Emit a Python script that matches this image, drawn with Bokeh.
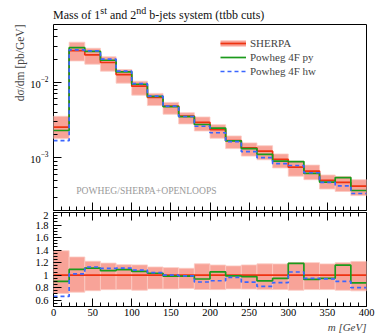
from bokeh.embed import file_html
from bokeh.layouts import column
from bokeh.models import (CustomLabelingPolicy, Div, FixedTicker, Label,
                          LinearAxis, Legend, LegendItem, Range1d, Title)
from bokeh.plotting import figure
from bokeh.resources import INLINE

# ---- data: m(b1,b2) in 20 GeV bins, d(sigma)/dm in pb/GeV ----
bin_edges = [0, 20, 40, 60, 80, 100, 120, 140, 160, 180, 200,
             220, 240, 260, 280, 300, 320, 340, 360, 380, 400]

sherpa = [2.54e-3, 2.62e-2, 2.30e-2, 1.82e-2, 1.26e-2, 8.85e-3, 6.28e-3,
          4.82e-3, 3.55e-3, 2.93e-3, 2.35e-3, 1.69e-3, 1.35e-3, 1.22e-3,
          9.5e-4, 7.5e-4, 6.65e-4, 5.0e-4, 4.7e-4, 4.2e-4]
sherpa_up = [3.53e-3, 3.38e-2, 2.81e-2, 2.17e-2, 1.47e-2, 1.03e-2, 7.10e-3,
             5.40e-3, 3.94e-3, 3.46e-3, 2.73e-3, 1.94e-3, 1.57e-3, 1.44e-3,
             1.12e-3, 9.0e-4, 7.98e-4, 5.9e-4, 5.64e-4, 5.12e-4]
sherpa_dn = [1.80e-3, 1.91e-2, 1.73e-2, 1.40e-2, 9.70e-3, 6.73e-3, 4.90e-3,
             3.76e-3, 2.80e-3, 2.26e-3, 1.81e-3, 1.32e-3, 1.05e-3, 9.39e-4,
             7.32e-4, 5.70e-4, 5.12e-4, 3.85e-4, 3.57e-4, 3.15e-4]
powheg_py = [2.29e-3, 2.86e-2, 2.56e-2, 1.95e-2, 1.37e-2, 9.38e-3, 6.47e-3,
             4.75e-3, 3.50e-3, 2.75e-3, 2.47e-3, 1.67e-3, 1.32e-3, 1.11e-3,
             9.0e-4, 8.9e-4, 6.2e-4, 4.75e-4, 5.45e-4, 3.68e-4]
powheg_hw = [1.68e-3, 2.67e-2, 2.60e-2, 2.02e-2, 1.40e-2, 9.56e-3, 6.53e-3,
             4.82e-3, 3.51e-3, 2.61e-3, 2.14e-3, 1.63e-3, 1.20e-3, 1.00e-3,
             8.36e-4, 7.88e-4, 6.32e-4, 4.70e-4, 4.23e-4, 3.36e-4]

x_ticks = [0, 50, 100, 150, 200, 250, 300, 350, 400]
ratio_ticks = [0.6, 0.8, 1.0, 1.2, 1.4, 1.6, 1.8, 2.0]

FONT = "Liberation Serif"
RED = "#ee3311"
BAND = "#f8a398"
BAND_EDGE = "#fbcac3"
GREEN = "#1c9a1c"
BLUE = "#3a66ff"

lefts = bin_edges[:-1]
rights = bin_edges[1:]

# tick marks only, no tick labels (shared panel edges)
no_labels = CustomLabelingPolicy(code="for (const i of indices) indices.unset(i)")


def step_y(vals):
    return list(vals) + [vals[-1]]


def style_axes(p):
    p.xgrid.visible = False
    p.ygrid.visible = False
    p.outline_line_color = "black"
    p.outline_line_width = 1
    p.background_fill_color = "white"
    p.border_fill_color = "white"
    for ax in p.axis:
        ax.axis_line_color = None
        ax.major_tick_in = 8
        ax.major_tick_out = 0
        ax.minor_tick_in = 4
        ax.minor_tick_out = 0
        ax.major_tick_line_color = "black"
        ax.minor_tick_line_color = "black"
        ax.major_label_text_font = FONT
        ax.major_label_text_font_size = "10.5px"
        ax.major_label_text_color = "black"


def hide_labels(ax):
    ax.major_label_policy = no_labels
    ax.major_label_text_font_size = "0px"
    ax.major_label_standoff = 0


minor_x = list(range(0, 401, 10))

# ---------------- main panel ----------------
p1 = figure(width=376, height=187, y_axis_type="log",
            x_range=Range1d(0, 400), y_range=Range1d(2.0e-4, 0.058),
            output_backend="svg", toolbar_location=None,
            min_border_left=53, min_border_right=10,
            min_border_top=0, min_border_bottom=1)

p1.quad(left=lefts, right=rights, bottom=sherpa_dn, top=sherpa_up,
        fill_color=BAND, fill_alpha=1.0, line_color=BAND_EDGE, line_width=0.8)
r_sh = p1.step(bin_edges, step_y(sherpa), mode="after",
               line_color=RED, line_width=1.7)
r_py = p1.step(bin_edges, step_y(powheg_py), mode="after",
               line_color=GREEN, line_width=1.7)
r_hw = p1.step(bin_edges, step_y(powheg_hw), mode="after",
               line_color=BLUE, line_width=1.7, line_dash="4 3")
# legend swatch for the uncertainty band (draws nothing in the frame)
leg_band = p1.line(x=[float("nan")], y=[float("nan")],
                   line_color=BAND, line_width=6)

style_axes(p1)
p1.xaxis.ticker = FixedTicker(ticks=x_ticks, minor_ticks=minor_x)
hide_labels(p1.xaxis[0])
p1.yaxis.ticker = FixedTicker(
    ticks=[1e-3, 1e-2],
    minor_ticks=[m * 10.0 ** e for e in (-4, -3, -2) for m in range(2, 10)])
p1.yaxis.major_label_standoff = 5

legend = Legend(items=[
    LegendItem(label="SHERPA", renderers=[leg_band, r_sh]),
    LegendItem(label="Powheg 4F py", renderers=[r_py]),
    LegendItem(label="Powheg 4F hw", renderers=[r_hw]),
], location=(167, 132))
legend.border_line_color = None
legend.background_fill_alpha = 0
legend.padding = 0
legend.spacing = 0
legend.margin = 0
legend.glyph_width = 26
legend.glyph_height = 14
legend.label_height = 14
legend.label_standoff = 4
legend.label_text_font = FONT
legend.label_text_font_size = "11px"
p1.add_layout(legend)

p1.add_layout(Title(text="dσ/dm [pb/GeV]", align="right", standoff=3,
                    text_font=FONT, text_font_size="11.5px",
                    text_font_style="normal"), "left")
p1.add_layout(Label(x=29, y=3.64e-4, text="POWHEG/SHERPA+OPENLOOPS",
                    text_align="left", text_baseline="middle",
                    text_font=FONT, text_font_size="9.6px",
                    text_color="#9a9a9a"))

# ---------------- ratio panel ----------------
ratio_py = [a / b for a, b in zip(powheg_py, sherpa)]
ratio_hw = [a / b for a, b in zip(powheg_hw, sherpa)]
ratio_up = [a / b for a, b in zip(sherpa_up, sherpa)]
ratio_dn = [a / b for a, b in zip(sherpa_dn, sherpa)]
ratio_sh = [1.0 for _ in sherpa]

p2 = figure(width=376, height=122,
            x_range=p1.x_range, y_range=Range1d(0.5, 2.0),
            output_backend="svg", toolbar_location=None,
            min_border_left=53, min_border_right=10,
            min_border_top=1, min_border_bottom=27)

p2.quad(left=lefts, right=rights, bottom=ratio_dn, top=ratio_up,
        fill_color=BAND, fill_alpha=1.0, line_color=BAND_EDGE, line_width=0.8)
p2.step(bin_edges, step_y(ratio_sh), mode="after",
        line_color=RED, line_width=1.7)
p2.step(bin_edges, step_y(ratio_py), mode="after",
        line_color=GREEN, line_width=1.7)
p2.step(bin_edges, step_y(ratio_hw), mode="after",
        line_color=BLUE, line_width=1.7, line_dash="4 3")

top_axis = LinearAxis()
p2.add_layout(top_axis, "above")
style_axes(p2)
for ax in (p2.below[0], top_axis):
    ax.ticker = FixedTicker(ticks=x_ticks, minor_ticks=minor_x)
hide_labels(top_axis)
p2.below[0].major_label_standoff = 2
p2.yaxis.ticker = FixedTicker(
    ticks=ratio_ticks,
    minor_ticks=[round(0.5 + 0.05 * k, 2) for k in range(31)])
p2.yaxis.major_label_overrides = {1: "1", 2: "2"}
p2.yaxis.major_label_standoff = 5

p2.add_layout(Title(text="m [GeV]", align="right", standoff=0,
                    text_font=FONT, text_font_size="11px",
                    text_font_style="italic"), "below")

title = Div(text="Mass of 1<sup>st</sup> and 2<sup>nd</sup> b-jets system (ttbb cuts)",
            width=376, height=24, margin=(0, 0, 0, 0),
            styles={"font-family": FONT, "font-size": "12px",
                    "padding-left": "53px", "padding-top": "4px",
                    "color": "#111", "box-sizing": "border-box"})

layout = column(title, p1, p2, spacing=0)
open("out.html", "w").write(file_html(layout, INLINE))
